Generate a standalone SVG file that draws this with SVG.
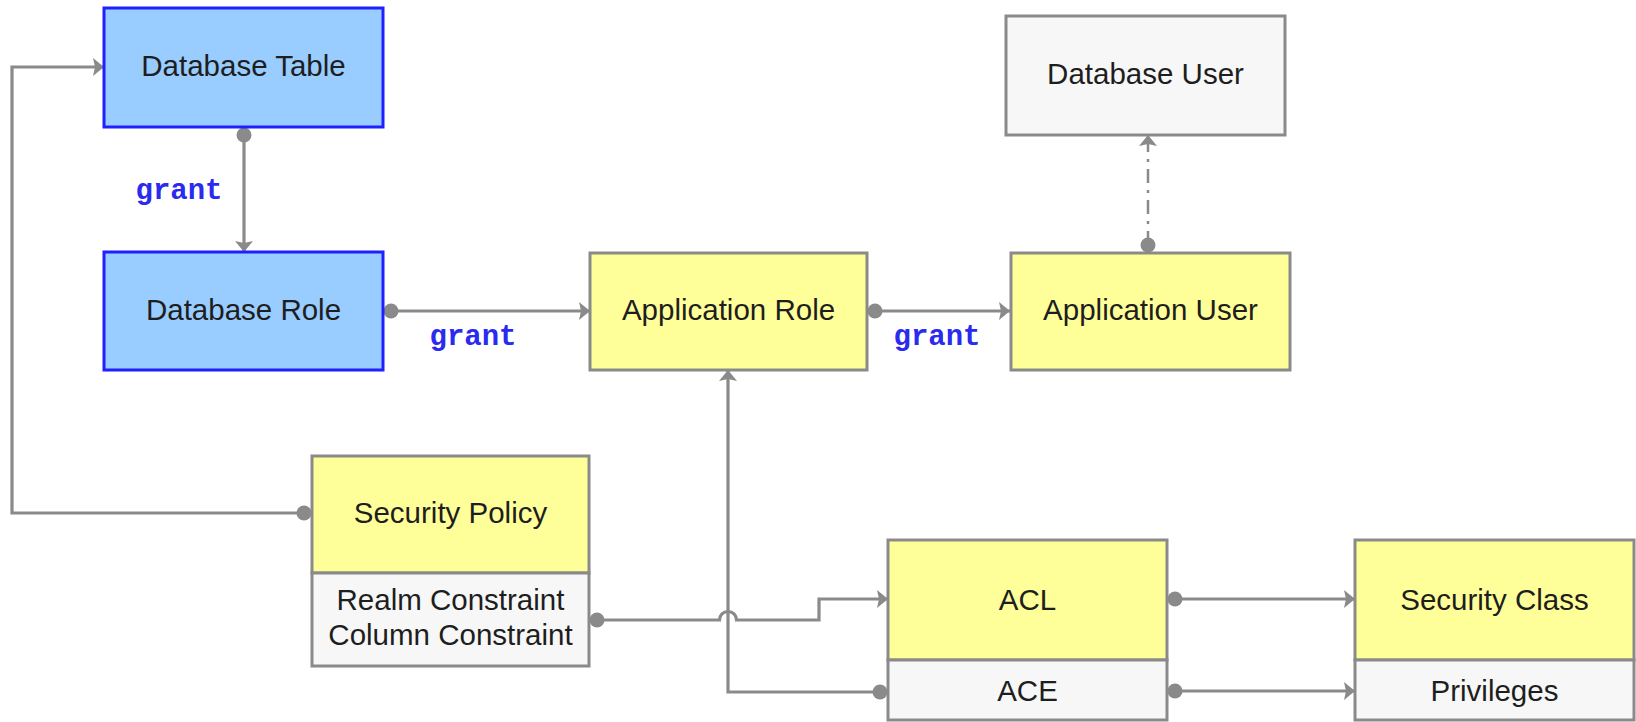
<svg xmlns="http://www.w3.org/2000/svg" width="1636" height="722" viewBox="0 0 1636 722">
<style>
.box{stroke:#8a8a8a;stroke-width:3}
.blue{fill:#99ccff;stroke:#1f1fff;stroke-width:3}
.yellow{fill:#ffff99}
.gray{fill:#f7f7f7}
.lbl{font-family:"Liberation Sans",Arial,sans-serif;font-size:29.5px;fill:#1e1e1e;text-anchor:middle}
.grant{font-family:"Liberation Mono","Courier New",monospace;font-weight:bold;font-size:29px;fill:#2a2af0;text-anchor:middle}
.conn{fill:none;stroke:#8a8a8a;stroke-width:3.2;marker-start:url(#dot);marker-end:url(#arrow)}
.dash{stroke-width:2.5;stroke-dasharray:14 7 3 7}
</style>
<defs>
<marker id="arrow" viewBox="0 0 11 18" refX="11" refY="9" markerWidth="11" markerHeight="18" markerUnits="userSpaceOnUse" orient="auto">
<path d="M0,0 L11,9 L0,18 L2,9 Z" fill="#8a8a8a"/>
</marker>
<marker id="dot" viewBox="-8 -8 16 16" refX="0" refY="0" markerWidth="16" markerHeight="16" markerUnits="userSpaceOnUse">
<circle r="7.5" fill="#8a8a8a"/>
</marker>
</defs>

<g id="connectors">
<path class="conn" d="M244,135 V252"/>
<path class="conn" d="M391,311 H590"/>
<path class="conn" d="M875,311 H1010"/>
<path class="conn dash" d="M1148,245 V135"/>
<path class="conn" d="M304,513 H12 V67 H104"/>
<path class="conn" d="M597,620 H719.5 A8.5,8.5 0 0 1 736.5,620 H819 V599 H888"/>
<path class="conn" d="M880,692 H728 V370"/>
<path class="conn" d="M1175,599 H1355"/>
<path class="conn" d="M1175,691 H1355"/>
</g>

<g id="connector-labels">
<text class="grant" x="179" y="199">grant</text>
<text class="grant" x="473" y="345">grant</text>
<text class="grant" x="937" y="345">grant</text>
</g>

<g id="database-table">
<rect class="blue" x="104" y="8" width="279" height="119"/>
<text class="lbl" x="243.5" y="76">Database Table</text>
</g>
<g id="database-role">
<rect class="blue" x="104" y="252" width="279" height="118"/>
<text class="lbl" x="243.5" y="320">Database Role</text>
</g>
<g id="application-role">
<rect class="box yellow" x="590" y="253" width="277" height="117"/>
<text class="lbl" x="728.5" y="320">Application Role</text>
</g>
<g id="application-user">
<rect class="box yellow" x="1011" y="253" width="279" height="117"/>
<text class="lbl" x="1150.5" y="320">Application User</text>
</g>
<g id="database-user">
<rect class="box gray" x="1006" y="16" width="279" height="119"/>
<text class="lbl" x="1145.5" y="84">Database User</text>
</g>
<g id="security-policy">
<rect class="box yellow" x="312" y="456" width="277" height="117"/>
<text class="lbl" x="450.5" y="523">Security Policy</text>
<rect class="box gray" x="312" y="573" width="277" height="93"/>
<text class="lbl" x="450.5" y="610">Realm Constraint</text>
<text class="lbl" x="450.5" y="645">Column Constraint</text>
</g>
<g id="acl">
<rect class="box yellow" x="888" y="540" width="279" height="120"/>
<text class="lbl" x="1027.5" y="610">ACL</text>
<rect class="box gray" x="888" y="660" width="279" height="60"/>
<text class="lbl" x="1027.5" y="701">ACE</text>
</g>
<g id="security-class">
<rect class="box yellow" x="1355" y="540" width="279" height="120"/>
<text class="lbl" x="1494.5" y="610">Security Class</text>
<rect class="box gray" x="1355" y="660" width="279" height="60"/>
<text class="lbl" x="1494.5" y="701">Privileges</text>
</g>
</svg>
